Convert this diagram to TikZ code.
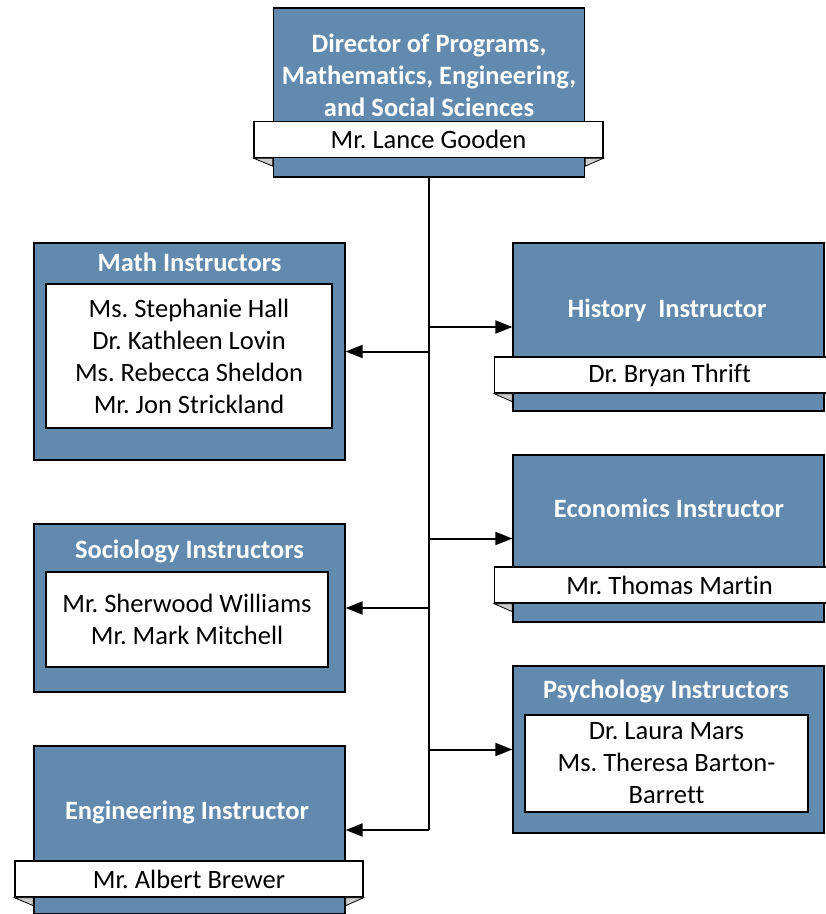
\documentclass[tikz,border=0pt]{standalone}
\usepackage{fontspec}
\setmainfont{Carlito}[Ligatures=NoCommon]
\usetikzlibrary{positioning,arrows.meta,calc}
\definecolor{orgblue}{RGB}{98,138,174}
\definecolor{orgfold}{RGB}{205,205,205}
\frenchspacing
\tikzset{
  orgbox/.style={draw, line width=1.3pt, fill=orgblue, minimum width=311pt, inner sep=0pt},
  orgtitle/.style={font=\fontsize{26.5}{32}\selectfont\bfseries, text=white, align=center, inner sep=0pt},
  orgname/.style={draw, line width=1.3pt, fill=white, minimum height=36pt, font=\fontsize{26.5}{32}\selectfont, inner sep=0pt},
  orglist/.style={draw, line width=1.3pt, fill=white, align=center, font=\fontsize{26.5}{32}\selectfont, inner sep=0pt},
  orgfoldtab/.style={fill=orgfold, draw, line width=0.8pt},
  orgarrow/.style={-{Triangle[length=17pt,width=13pt]}, line width=2pt},
  orgtrunk/.style={line width=2.8pt},
}

\begin{document}
\begin{tikzpicture}[x=1pt,y=-1pt]
  \useasboundingbox (0,0) rectangle (826,914);

  % boxes
  \node[orgbox, minimum height=169pt] (dir) at (429,92.5) {};
  \node[orgbox, minimum height=217pt] (math) at (189.5,351.5) {};
  \node[orgbox, minimum height=168pt] (soc) at (189.5,608) {};
  \node[orgbox, minimum height=168pt] (eng) at (189.5,830) {};
  \node[orgbox, minimum height=168pt] (hist) at (668.5,327) {};
  \node[orgbox, minimum height=167pt] (econ) at (668.5,538.5) {};
  \node[orgbox, minimum height=167pt] (psych) at (668.5,749.5) {};

  % titles
  \node[orgtitle] (dirtitle) at (429,75) {Director of Programs,\\Mathematics, Engineering,\\and Social Sciences};
  \node[orgtitle] (mathtitle) at (189.5,262) {Math Instructors};
  \node[orgtitle] (soctitle) at (189.5,551) {Sociology Instructors};
  \node[orgtitle] (engtitle) at (187,812) {Engineering Instructor};
  \node[orgtitle] (histtitle) at (667,310) {History\ \ Instructor};
  \node[orgtitle] (econtitle) at (669,508) {Economics Instructor};
  \node[orgtitle] (psychtitle) at (666,691) {Psychology Instructors};

  % name strips
  \node[orgname, minimum width=349pt] (dirname) at (428.5,139.5) {Mr. Lance Gooden};
  \node[orgname, minimum width=348pt] (engname) at (189,879) {Mr. Albert Brewer};
  \node[orgname, minimum width=350pt, anchor=west] (histname) at (494,375) {Dr. Bryan Thrift};
  \node[orgname, minimum width=350pt, anchor=west] (econname) at (494,585) {Mr. Thomas Martin};
  \foreach \n/\b in {dirname/dir, engname/eng, histname/hist, econname/econ}
    \filldraw[orgfoldtab] (\n.south west) -- (\b.west |- \n.south) -- ++(0,8) -- cycle;
  \foreach \n/\b in {dirname/dir, engname/eng}
    \filldraw[orgfoldtab] (\n.south east) -- (\b.east |- \n.south) -- ++(0,8) -- cycle;

  % name lists
  \node[orglist, minimum width=286pt, minimum height=144pt] (mathlist) at (189,356)
    {Ms. Stephanie Hall\\Dr. Kathleen Lovin\\Ms. Rebecca Sheldon\\Mr. Jon Strickland};
  \node[orglist, minimum width=282pt, minimum height=95pt] (soclist) at (187,619.5)
    {Mr. Sherwood Williams\\Mr. Mark Mitchell};
  \node[orglist, minimum width=283pt, minimum height=97pt] (psychlist) at (666.5,763.5)
    {Dr. Laura Mars\\Ms. Theresa Barton-\\Barrett};

  % connectors
  \coordinate (trunkend) at (dir.south |- eng.east);
  \draw[orgtrunk] (dir.south) -- (trunkend);
  \foreach \b in {hist, econ, psych}
    \draw[orgarrow] (dir.south |- \b.west) -- (\b.west);
  \foreach \b in {math, soc, eng}
    \draw[orgarrow] (dir.south |- \b.east) -- (\b.east);
\end{tikzpicture}
\end{document}
